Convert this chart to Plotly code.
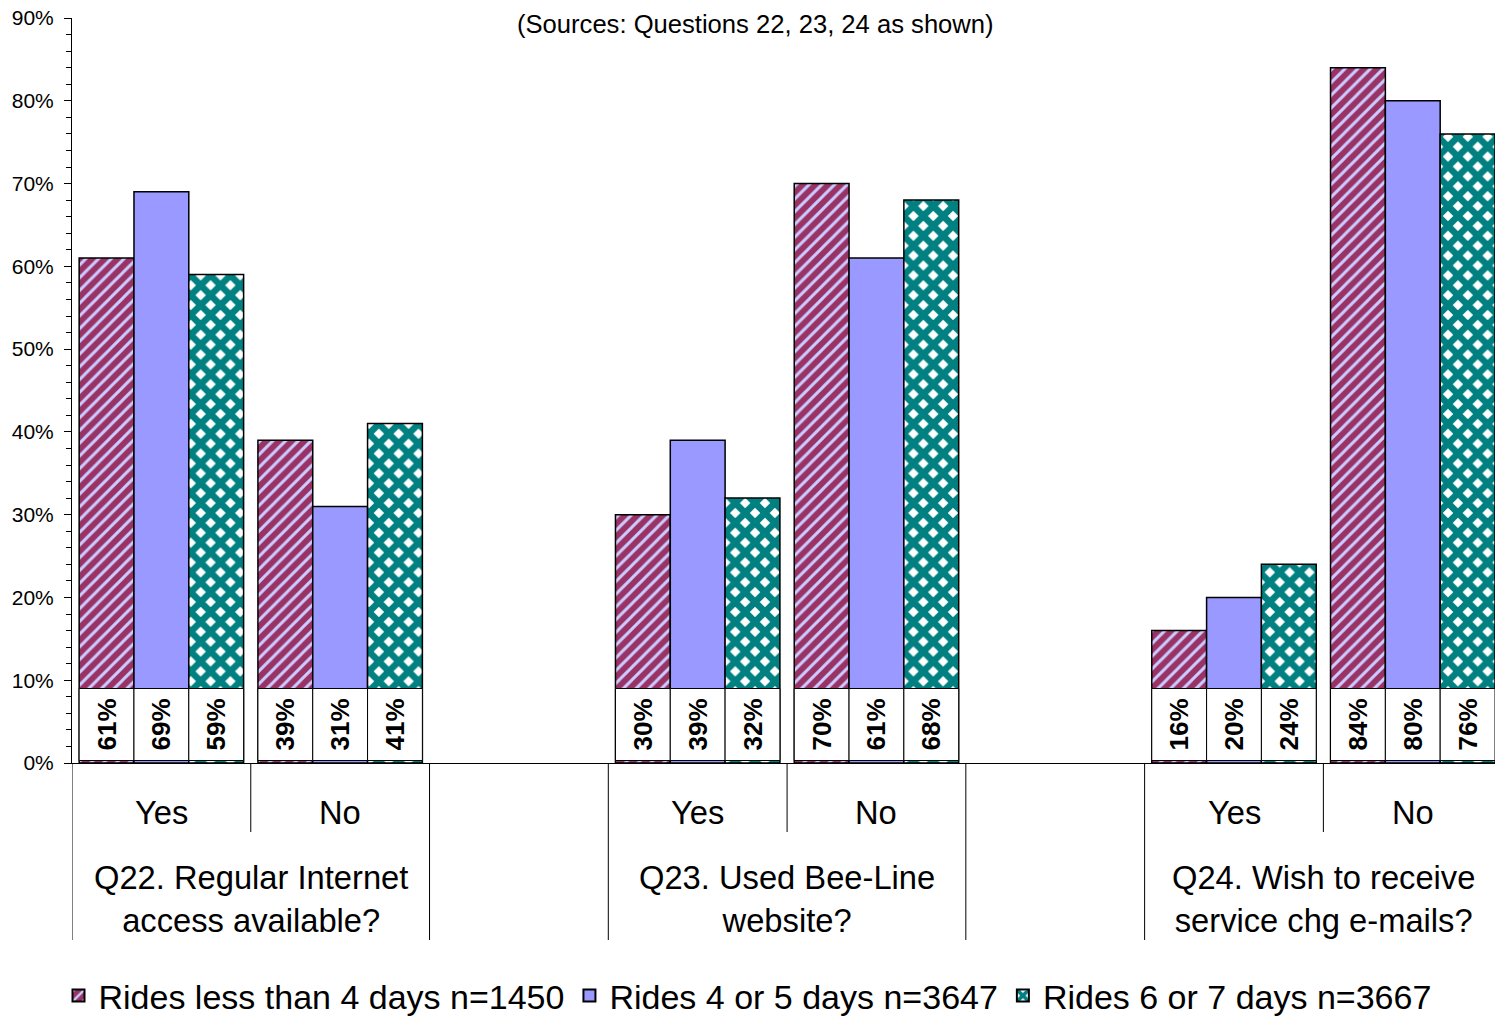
import plotly.graph_objects as go

# Survey questions and answer options
questions = [
    "Q22. Regular Internet<br>access available?",
    "Q23. Used Bee-Line<br>website?",
    "Q24. Wish to receive<br>service chg e-mails?",
]
answers = ["Yes", "No"]

# Rider groups
series_names = [
    "Rides less than 4 days n=1450",
    "Rides 4 or 5 days n=3647",
    "Rides 6 or 7 days n=3667",
]

# Percent answering, ordered Q22 Yes/No, Q23 Yes/No, Q24 Yes/No
less_than_4 = [61, 39, 30, 70, 16, 84]
four_or_5 = [69, 31, 39, 61, 20, 80]
six_or_7 = [59, 41, 32, 68, 24, 76]
series_values = [less_than_4, four_or_5, six_or_7]

y_ticks = list(range(0, 91, 10))
title_text = "(Sources: Questions 22, 23, 24 as shown)"

# Each question takes two category slots followed by one empty slot
x_pos = []
for qi in range(len(questions)):
    for ai in range(len(answers)):
        x_pos.append(qi * 3 + ai)

styles = [
    dict(color="#993366",
         pattern=dict(shape="/", fgcolor="#CCCCFF", bgcolor="#993366",
                      fgopacity=1, size=9, solidity=0.33)),
    dict(color="#9999FF"),
    dict(color="#008080",
         pattern=dict(shape="x", fgcolor="#008080", bgcolor="#FFFFFF",
                      fgopacity=1, size=14, solidity=0.72)),
]

font_family = "Arial, Liberation Sans, sans-serif"

fig = go.Figure()

for i, (name, vals) in enumerate(zip(series_names, series_values)):
    fig.add_trace(go.Bar(
        x=x_pos, y=vals, name=name, offsetgroup=str(i),
        marker=dict(line=dict(color="black", width=1.5), **styles[i]),
        hoverinfo="name+y",
    ))

# White value boxes sitting at the foot of every bar
for i, vals in enumerate(series_values):
    fig.add_trace(go.Bar(
        x=x_pos, y=[8.7] * len(vals), base=0.3, offsetgroup=str(i),
        marker=dict(color="white", line=dict(color="black", width=1)),
        text=[f"{v}%" for v in vals], textposition="inside",
        insidetextanchor="middle", textangle=-90,
        textfont=dict(family=font_family, size=26, color="black", weight="bold"),
        showlegend=False, hoverinfo="skip",
    ))

annotations = []
shapes = []
bottom_y = -177 / 745
answer_y = -49 / 745
answer_div_y = -69 / 745
question_y = -136 / 745

for qi, q in enumerate(questions):
    start = qi * 3
    annotations.append(dict(
        x=start + 0.5, y=question_y, xref="x", yref="paper", text=q,
        showarrow=False, yanchor="middle",
        font=dict(family=font_family, size=32.7, color="black"),
    ))
    for ai, a in enumerate(answers):
        annotations.append(dict(
            x=start + ai, y=answer_y, xref="x", yref="paper", text=a,
            showarrow=False, yanchor="middle",
            font=dict(family=font_family, size=32.7, color="black"),
        ))
    # dividers: question edges go full depth, answer split is shorter
    for xe in (start - 0.5, start + 1.5):
        shapes.append(dict(type="line", xref="x", yref="paper",
                           x0=xe, x1=xe, y0=0, y1=bottom_y,
                           line=dict(color="black", width=1)))
    shapes.append(dict(type="line", xref="x", yref="paper",
                       x0=start + 0.5, x1=start + 0.5, y0=0, y1=answer_div_y,
                       line=dict(color="black", width=1)))

annotations.append(dict(
    x=(755 - 72) / 1423, y=(763 - 24) / 745, xref="paper", yref="paper",
    text=title_text, showarrow=False, yanchor="middle",
    font=dict(family=font_family, size=25.6, color="black"),
))

fig.update_layout(
    width=1495, height=1017,
    margin=dict(l=72, r=0, t=18, b=254),
    paper_bgcolor="white", plot_bgcolor="white",
    barmode="group", bargap=0.08, bargroupgap=0,
    showlegend=True,
    legend=dict(orientation="h", x=0.5, xanchor="center", xref="container",
                y=(1017 - 996) / 1017, yanchor="middle", yref="container",
                font=dict(family=font_family, size=34, color="black"),
                itemsizing="constant", tracegroupgap=0),
    xaxis=dict(range=[-0.5, 7.46], showticklabels=False, showgrid=False,
               zeroline=False, showline=True, linecolor="black", linewidth=1,
               ticks=""),
    yaxis=dict(range=[0, 90], tickvals=y_ticks,
               ticktext=[f"{t}%" for t in y_ticks],
               showgrid=False, zeroline=False, showline=True,
               linecolor="black", linewidth=1, ticks="outside", ticklen=7,
               tickcolor="black", ticklabelstandoff=6,
               minor=dict(dtick=2, ticks="outside", ticklen=5, tickcolor="black",
                          showgrid=False),
               tickfont=dict(family=font_family, size=21, color="black")),
    annotations=annotations, shapes=shapes,
    font=dict(family=font_family),
)

fig.write_html("out.html")
